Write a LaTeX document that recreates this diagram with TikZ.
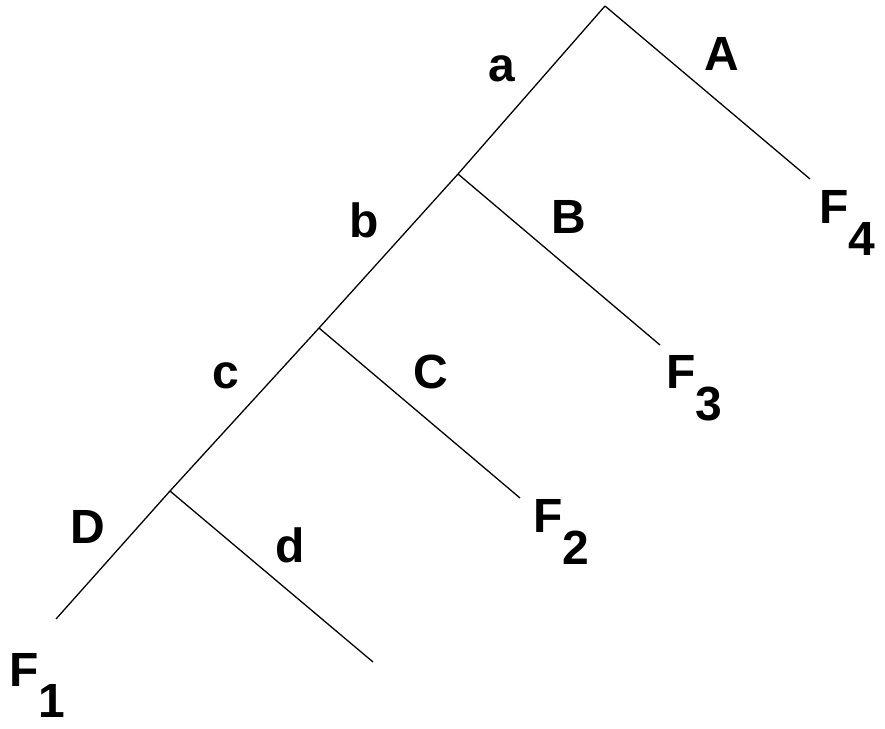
\documentclass[tikz,border=0pt]{standalone}
\usepackage{fontspec}
\setmainfont{Liberation Sans}
\begin{document}
\begin{tikzpicture}[x=1pt,y=-1pt,
  branch/.style={line width=1.3pt},
  lbl/.style={anchor=base west,inner sep=0pt,font=\fontsize{48}{48}\selectfont\bfseries},
  leaf/.style={lbl}]
\useasboundingbox (0,0) rectangle (885,728);
% tree vertices
\coordinate (top) at (605,6);
\coordinate (jb) at (458,174);
\coordinate (jc) at (319,328);
\coordinate (jd) at (170,491);
\coordinate (e1) at (56,619);
\coordinate (e4) at (810,179);
\coordinate (e3) at (660,345);
\coordinate (e2) at (520,498);
\coordinate (e0) at (373,662);
% spine and side branches
\draw[branch] (top) -- (jb) -- (jc) -- (jd) -- (e1);
\draw[branch] (top) -- (e4);
\draw[branch] (jb) -- (e3);
\draw[branch] (jc) -- (e2);
\draw[branch] (jd) -- (e0);
% edge labels
\node[lbl] (la) at (488,81) {a};
\node[lbl] (lA) at (704,70) {A};
\node[lbl] (lb) at (349.5,237) {b};
\node[lbl] (lB) at (551.5,233) {B};
\node[lbl] (lc) at (212,388) {c};
\node[lbl] (lC) at (413.6,388) {C};
\node[lbl] (lD) at (70,543) {D};
\node[lbl] (ld) at (275,562) {d};
% leaves
\node[leaf] (F4) at (819,223) {F\raisebox{-32pt}{4}};
\node[leaf] (F3) at (666,388) {F\raisebox{-32pt}{3}};
\node[leaf] (F2) at (533,532) {F\raisebox{-32pt}{2}};
\node[leaf] (F1) at (9,686) {F\raisebox{-31pt}{1}};
\end{tikzpicture}
\end{document}
